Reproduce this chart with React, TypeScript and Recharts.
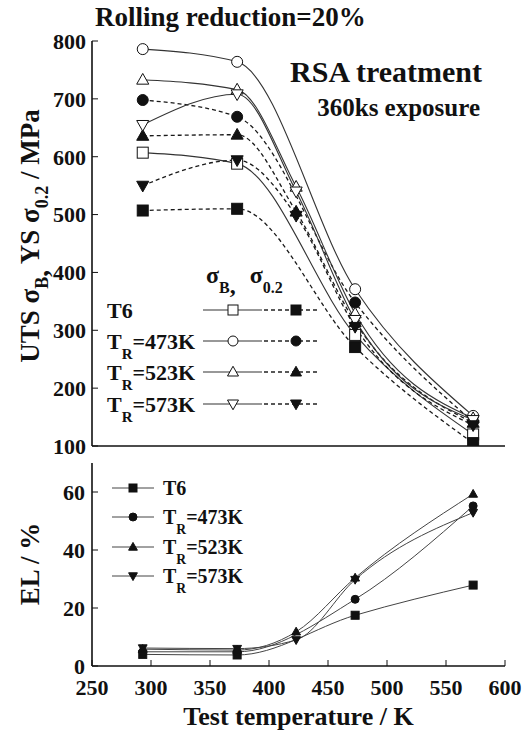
import React from "react";
import { LineChart, Line, XAxis, YAxis, Legend, Label } from "recharts";

const SERIF = "'Liberation Serif', 'Times New Roman', serif";
const INK = "#111";

// test temperatures, K
const tempsShort = [293, 373, 473, 573];
const tempsLong = [293, 373, 423, 473, 573];

// UTS (sigma_B) and YS (sigma_0.2), MPa
const utsT6 = [607, 588, 292, 120];
const ysT6 = [507, 510, 271, 105];
const uts473 = [786, 764, 371, 152];
const ys473 = [698, 669, 348, 142];
const uts523 = [733, 716, 548, 329, 148];
const ys523 = [636, 638, 505, 314, 140];
const uts573 = [655, 708, 540, 318, 145];
const ys573 = [550, 594, 498, 306, 136];

// elongation, %
const elT6 = [4.0, 3.8, 17.5, 27.9];
const el473 = [4.9, 4.9, 23.0, 55.2];
const el523 = [5.8, 5.5, 11.8, 30.4, 59.3];
const el573 = [6.2, 6.0, 9.0, 29.8, 52.9];

const xTicks = [250, 300, 350, 400, 450, 500, 550, 600];
const strengthTicks = [100, 200, 300, 400, 500, 600, 700, 800];
const elTicks = [0, 20, 40, 60];

type Shape = "square" | "circle" | "up" | "down";

const pts = (ts: number[], vs: number[]) => ts.map((t, i) => ({ t, v: vs[i] }));

function Marker({ x, y, shape, filled, size }: { x: number; y: number; shape: Shape; filled: boolean; size: number }) {
  const s = size / 2;
  const fill = filled ? INK : "#fff";
  const common = { fill, stroke: INK, strokeWidth: 1 };
  if (shape === "square") return <rect x={x - s} y={y - s} width={size} height={size} {...common} />;
  if (shape === "circle") return <circle cx={x} cy={y} r={s} {...common} />;
  if (shape === "up")
    return <polygon points={`${x},${y - s * 1.15} ${x + s * 1.1},${y + s * 0.8} ${x - s * 1.1},${y + s * 0.8}`} {...common} />;
  return <polygon points={`${x},${y + s * 1.15} ${x + s * 1.1},${y - s * 0.8} ${x - s * 1.1},${y - s * 0.8}`} {...common} />;
}

const dotFor = (id: string, shape: Shape, filled: boolean, size: number) => (p: any) => (
  <Marker key={`${id}-${p.index}`} x={p.cx} y={p.cy} shape={shape} filled={filled} size={size} />
);

const groups: { name: string; sub?: string; shape: Shape }[] = [
  { name: "T6", shape: "square" },
  { name: "T", sub: "R", shape: "circle" },
  { name: "T", sub: "R", shape: "up" },
  { name: "T", sub: "R", shape: "down" },
];
const groupTemps = ["", "=473K", "=523K", "=573K"];

const strengthSeries = [
  { id: "utsT6", data: pts(tempsShort, utsT6), shape: "square" as Shape, filled: false },
  { id: "ysT6", data: pts(tempsShort, ysT6), shape: "square" as Shape, filled: true },
  { id: "uts473", data: pts(tempsShort, uts473), shape: "circle" as Shape, filled: false },
  { id: "ys473", data: pts(tempsShort, ys473), shape: "circle" as Shape, filled: true },
  { id: "uts523", data: pts(tempsLong, uts523), shape: "up" as Shape, filled: false },
  { id: "ys523", data: pts(tempsLong, ys523), shape: "up" as Shape, filled: true },
  { id: "uts573", data: pts(tempsLong, uts573), shape: "down" as Shape, filled: false },
  { id: "ys573", data: pts(tempsLong, ys573), shape: "down" as Shape, filled: true },
];

const elSeries = [
  { id: "elT6", data: pts(tempsShort, elT6), shape: "square" as Shape },
  { id: "el473", data: pts(tempsShort, el473), shape: "circle" as Shape },
  { id: "el523", data: pts(tempsLong, el523), shape: "up" as Shape },
  { id: "el573", data: pts(tempsLong, el573), shape: "down" as Shape },
];

const tickFont = { fontSize: 22, fontWeight: "bold", fill: INK, style: { fontFamily: SERIF } };
const axisLine = { stroke: INK, strokeWidth: 1.6 };
const textStyle = { fontFamily: SERIF };

function GroupLabel({ x, y, i, size }: { x: number; y: number; i: number; size: number }) {
  const g = groups[i];
  return (
    <text x={x} y={y} style={textStyle} fontWeight="bold" fontSize={size} fill={INK}>
      {g.name}
      {g.sub && (
        <>
          <tspan dy={10} fontSize={size * 0.68}>{g.sub}</tspan>
          <tspan dy={-10}>{groupTemps[i]}</tspan>
        </>
      )}
    </text>
  );
}

// top legend, drawn in page coordinates
function StrengthLegend() {
  const rows = [310, 341, 372, 404];
  return (
    <svg width={240} height={160} style={{ overflow: "visible" }}>
      <g transform="translate(-100,-268)">
        <text x={206} y={283} style={textStyle} fontWeight="bold" fontSize={24} fill={INK}>
          σ<tspan dy={10} fontSize={16}>B</tspan>
          <tspan>,</tspan>
          <tspan dy={-10} dx={14}>σ</tspan>
          <tspan dy={10} fontSize={16}>0.2</tspan>
        </text>
        {rows.map((y, i) => (
          <g key={i}>
            <GroupLabel x={107} y={y + 8} i={i} size={22} />
            <line x1={203} x2={262} y1={y} y2={y} stroke="#333" strokeWidth={1.1} />
            <line x1={264} x2={318} y1={y} y2={y} stroke="#222" strokeWidth={1.3} strokeDasharray="4 3" />
            <Marker x={233} y={y} shape={groups[i].shape} filled={false} size={10} />
            <Marker x={296} y={y} shape={groups[i].shape} filled={true} size={10} />
          </g>
        ))}
      </g>
    </svg>
  );
}

// bottom legend, page coordinates (bottom chart starts at y=450)
function ElLegend() {
  const rows = [488, 517, 547, 576];
  return (
    <svg width={180} height={120} style={{ overflow: "visible" }}>
      <g transform="translate(-100,-475)">
        {rows.map((y, i) => (
          <g key={i}>
            <line x1={112} x2={154} y1={y} y2={y} stroke="#444" strokeWidth={1} />
            <Marker x={133} y={y} shape={groups[i].shape} filled={true} size={8} />
            <GroupLabel x={163} y={y + 7} i={i} size={20} />
          </g>
        ))}
      </g>
    </svg>
  );
}

const Titles = () => (
  <g style={textStyle} fontWeight="bold" fill={INK}>
    <text x={95} y={26} fontSize={27}>Rolling reduction=20%</text>
    <text x={482} y={82} fontSize={30} textAnchor="end">RSA treatment</text>
    <text x={480} y={116} fontSize={25} textAnchor="end">360ks exposure</text>
  </g>
);

const StrengthTitle = () => (
  <text transform="translate(39,236) rotate(-90)" textAnchor="middle" style={textStyle} fontWeight="bold" fontSize={27} fill={INK}>
    UTS σ<tspan dy={9} fontSize={18}>B</tspan>
    <tspan>,</tspan>
    <tspan dy={-9}> YS σ</tspan>
    <tspan dy={9} fontSize={18}>0.2</tspan>
    <tspan dy={-9}> / MPa</tspan>
  </text>
);

const ElTitle = () => (
  <text transform="translate(39,114) rotate(-90)" textAnchor="middle" style={textStyle} fontWeight="bold" fontSize={27} fill={INK}>
    EL / %
  </text>
);

export default function App() {
  return (
    <div style={{ position: "absolute", left: 0, top: 0, width: 528, height: 731, background: "#fff", fontFamily: SERIF }}>
      <div style={{ position: "absolute", left: 0, top: 0 }}>
        <LineChart width={528} height={460} margin={{ top: 41, right: 23, bottom: 0, left: 0 }}>
          <XAxis dataKey="t" type="number" domain={[250, 600]} ticks={xTicks} allowDataOverflow
            height={14} tick={false} tickSize={-6} axisLine={axisLine} tickLine={{ stroke: INK }} />
          <XAxis xAxisId="top" orientation="top" type="number" domain={[250, 600]} ticks={xTicks} allowDataOverflow
            height={0} tick={false} tickSize={-6} axisLine={axisLine} tickLine={{ stroke: INK }} />
          <YAxis dataKey="v" type="number" domain={[100, 800]} ticks={strengthTicks} allowDataOverflow
            width={92} tick={tickFont} tickSize={-6} tickMargin={12} axisLine={axisLine} tickLine={{ stroke: INK }}>
            <Label content={() => <StrengthTitle />} />
            <Label content={() => <Titles />} />
          </YAxis>
          <YAxis yAxisId="r" orientation="right" type="number" domain={[100, 800]} ticks={strengthTicks} allowDataOverflow
            width={0} tick={false} tickSize={-6} axisLine={axisLine} tickLine={{ stroke: INK }} />
          <Legend layout="horizontal" verticalAlign="middle" align="center" content={() => <StrengthLegend />}
            wrapperStyle={{ left: 100, top: 268, width: 240, height: 160 }} />
          {strengthSeries.map((s) => (
            <Line key={s.id} data={s.data} dataKey="v" type="monotone" stroke={s.filled ? "#1a1a1a" : "#333"}
              strokeWidth={s.filled ? 1.3 : 1.1} strokeDasharray={s.filled ? "4 3" : undefined}
              dot={dotFor(s.id, s.shape, s.filled, 11)} activeDot={false} isAnimationActive={false} />
          ))}
        </LineChart>
      </div>
      <div style={{ position: "absolute", left: 0, top: 450 }}>
        <LineChart width={528} height={281} margin={{ top: 13, right: 23, bottom: 0, left: 0 }}>
          <XAxis dataKey="t" type="number" domain={[250, 600]} ticks={xTicks} allowDataOverflow
            height={65} tick={tickFont} tickSize={-6} tickMargin={19} axisLine={axisLine} tickLine={{ stroke: INK }}>
            <Label value="Test temperature  / K" position="insideBottom" offset={6}
              style={{ fontFamily: SERIF, fontWeight: "bold", fontSize: 26, fill: INK, whiteSpace: "pre" }} />
          </XAxis>
          <XAxis xAxisId="top" orientation="top" type="number" domain={[250, 600]} ticks={xTicks} allowDataOverflow
            height={0} tick={false} tickSize={-6} axisLine={axisLine} tickLine={{ stroke: INK }} />
          <YAxis dataKey="v" type="number" domain={[0, 70]} ticks={elTicks} allowDataOverflow
            width={92} tick={tickFont} tickSize={-6} tickMargin={13} axisLine={axisLine} tickLine={{ stroke: INK }}>
            <Label content={() => <ElTitle />} />
          </YAxis>
          <YAxis yAxisId="r" orientation="right" type="number" domain={[0, 70]} ticks={elTicks} allowDataOverflow
            width={0} tick={false} tickSize={-6} axisLine={axisLine} tickLine={{ stroke: INK }} />
          <Legend layout="horizontal" verticalAlign="middle" align="center" content={() => <ElLegend />}
            wrapperStyle={{ left: 100, top: 25, width: 180, height: 120 }} />
          {elSeries.map((s) => (
            <Line key={s.id} data={s.data} dataKey="v" type="monotone" stroke="#444" strokeWidth={1}
              dot={dotFor(s.id, s.shape, true, 8)} activeDot={false} isAnimationActive={false} />
          ))}
        </LineChart>
      </div>
    </div>
  );
}
